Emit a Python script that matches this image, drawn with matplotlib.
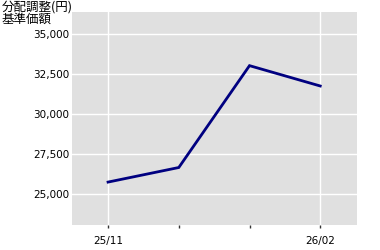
import matplotlib
matplotlib.use("Agg")
import matplotlib.pyplot as plt

# データ
months = ["25/11", "25/12", "26/01", "26/02"]
tick_labels = ["25/11", "", "", "26/02"]
nav = [25750, 26660, 33020, 31750]
yticks = [25000, 27500, 30000, 32500, 35000]

plt.rcParams['font.family'] = ['DejaVu Sans', 'Noto Sans CJK JP']

fig = plt.figure(figsize=(3.8, 2.5), dpi=100)
ax = fig.add_axes([72/380, 1-225/250, (357-72)/380, (225-12)/250])
ax.set_facecolor('#e0e0e0')

x = list(range(len(months)))
ax.plot(x, nav, color='#000080', lw=2, solid_joinstyle='miter')

ax.set_xlim(-0.51, 3.52)
ax.set_ylim(23070, 36370)
ax.set_yticks(yticks)
ax.set_yticklabels([f"{v:,}" for v in yticks])
ax.set_xticks(x)
ax.set_xticklabels(tick_labels)

# グリッド（横は全部、縦は端の2本のみ）
for v in yticks:
    ax.axhline(v, color='white', lw=1, zorder=0.5)
for i in (0, 3):
    ax.axvline(i, color='white', lw=1, zorder=0.5)

for s in ax.spines.values():
    s.set_visible(False)
ax.tick_params(axis='y', length=0, pad=2, labelsize=7.5)
ax.tick_params(axis='x', length=2, width=1, color='#333333', pad=6, labelsize=7.5)

fig.text(2/380, 1-1/250, "分配調整(円)\n基準価額", ha='left', va='top',
         fontsize=9, family=['Noto Sans CJK JP', 'DejaVu Sans'], linespacing=0.9)

fig.savefig("out.png", dpi=100)
